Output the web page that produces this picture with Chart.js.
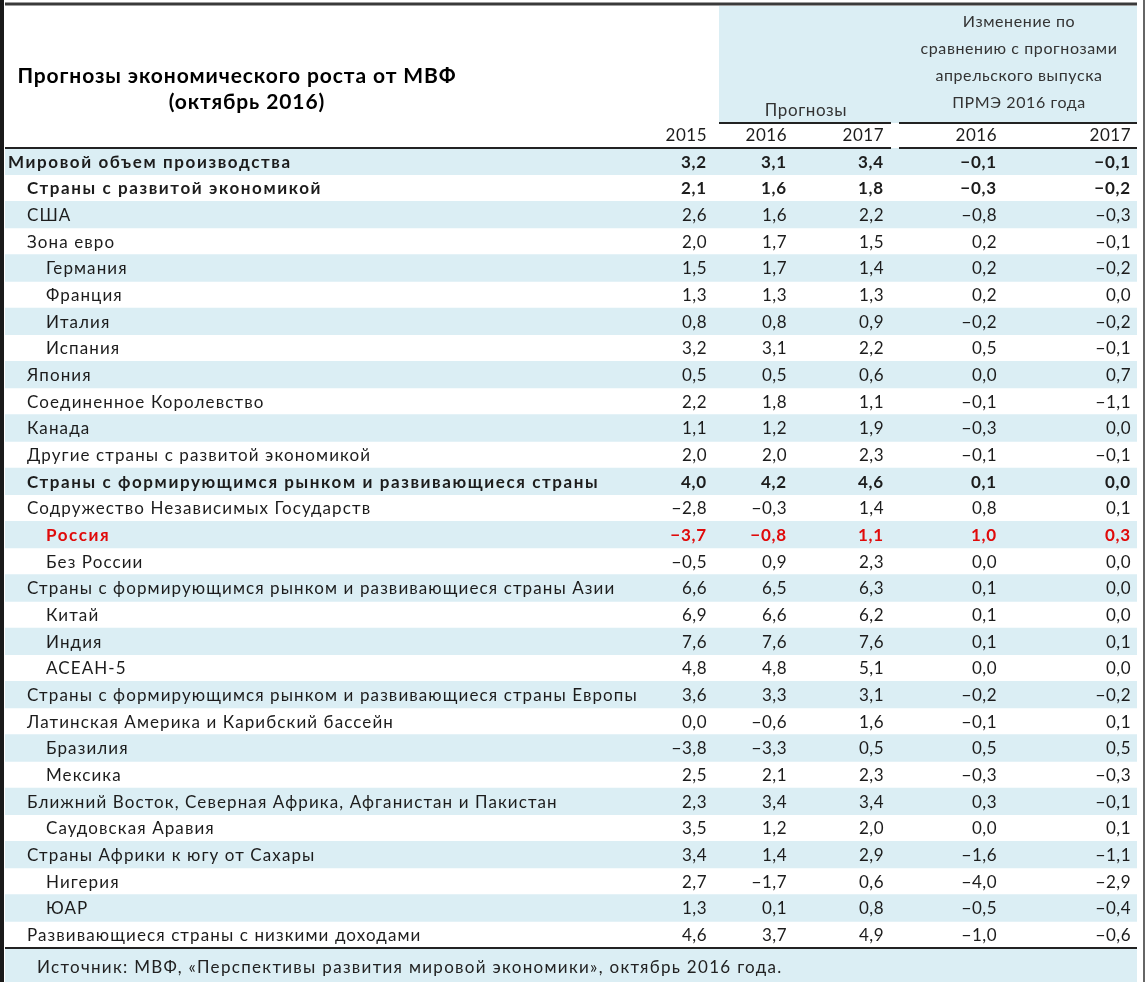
<!DOCTYPE html>
<html>
<head>
<meta charset="utf-8">
<script src="https://cdn.jsdelivr.net/npm/chart.js@4/dist/chart.umd.min.js"></script>
<style>
  html, body { margin: 0; padding: 0; background: #fff; }
  canvas { display: block; }
</style>
</head>
<body>
<canvas id="table" width="1148" height="982"></canvas>
<script>
// rows of the table
const rows = [
  "Мировой объем производства",
  "Страны с развитой экономикой",
  "США",
  "Зона евро",
  "Германия",
  "Франция",
  "Италия",
  "Испания",
  "Япония",
  "Соединенное Королевство",
  "Канада",
  "Другие страны с развитой экономикой",
  "Страны с формирующимся рынком и развивающиеся страны",
  "Содружество Независимых Государств",
  "Россия",
  "Без России",
  "Страны с формирующимся рынком и развивающиеся страны Азии",
  "Китай",
  "Индия",
  "АСЕАН-5",
  "Страны с формирующимся рынком и развивающиеся страны Европы",
  "Латинская Америка и Карибский бассейн",
  "Бразилия",
  "Мексика",
  "Ближний Восток, Северная Африка, Афганистан и Пакистан",
  "Саудовская Аравия",
  "Страны Африки к югу от Сахары",
  "Нигерия",
  "ЮАР",
  "Развивающиеся страны с низкими доходами"
];
// indent level of each row
const levels = [0,1,1,1,2,2,2,2,1,1,1,1,1,1,2,2,1,2,2,2,1,1,2,2,1,2,1,2,2,1];
const boldRows = [0, 1, 12, 14];
const highlightRow = 14;

// growth, %
const g2015 = [3.2,2.1,2.6,2.0,1.5,1.3,0.8,3.2,0.5,2.2,1.1,2.0,4.0,-2.8,-3.7,-0.5,6.6,6.9,7.6,4.8,3.6,0.0,-3.8,2.5,2.3,3.5,3.4,2.7,1.3,4.6];
const g2016 = [3.1,1.6,1.6,1.7,1.7,1.3,0.8,3.1,0.5,1.8,1.2,2.0,4.2,-0.3,-0.8,0.9,6.5,6.6,7.6,4.8,3.3,-0.6,-3.3,2.1,3.4,1.2,1.4,-1.7,0.1,3.7];
const g2017 = [3.4,1.8,2.2,1.5,1.4,1.3,0.9,2.2,0.6,1.1,1.9,2.3,4.6,1.4,1.1,2.3,6.3,6.2,7.6,5.1,3.1,1.6,0.5,2.3,3.4,2.0,2.9,0.6,0.8,4.9];
// change vs April 2016 WEO
const d2016 = [-0.1,-0.3,-0.8,0.2,0.2,0.2,-0.2,0.5,0.0,-0.1,-0.3,-0.1,0.1,0.8,1.0,0.0,0.1,0.1,0.1,0.0,-0.2,-0.1,0.5,-0.3,0.3,0.0,-1.6,-4.0,-0.5,-1.0];
const d2017 = [-0.1,-0.2,-0.3,-0.1,-0.2,0.0,-0.2,-0.1,0.7,-1.1,0.0,-0.1,0.0,0.1,0.3,0.0,0.0,0.0,0.1,0.0,-0.2,0.1,0.5,-0.3,-0.1,0.1,-1.1,-2.9,-0.4,-0.6];

const yearLabels = ["2015", "2016", "2017", "2016", "2017"];
const title = ["Прогнозы экономического роста от МВФ", "(октябрь 2016)"];
const forecastHeader = "Прогнозы";
const changeHeader = ["Изменение по", "сравнению с прогнозами", "апрельского выпуска", "ПРМЭ 2016 года"];
const source = "Источник: МВФ, «Перспективы развития мировой экономики», октябрь 2016 года.";

const columns = [g2015, g2016, g2017, d2016, d2017];
const colRight = [707, 787, 884, 997, 1131]; // right edge of each number column
const BLUE = "#dbeef4";
const INK = "#1c1c1c";
const FONT = "Lato, 'Open Sans', sans-serif";

const fmt = v => (v < 0 ? "\u2212" : "") + Math.abs(v).toFixed(1).replace(".", ",");

const tablePlugin = {
  id: "tableText",
  beforeDraw(chart) {
    const ctx = chart.ctx;
    const area = chart.chartArea;
    ctx.save();
    // header shading
    ctx.fillStyle = BLUE;
    ctx.fillRect(719, 6, area.right - 719, 117);
    // footer shading
    ctx.fillRect(area.left, area.bottom, area.right - area.left, chart.height - area.bottom);
    ctx.restore();
  },
  afterDatasetsDraw(chart) {
    const ctx = chart.ctx;
    const area = chart.chartArea;
    const y = chart.scales.y;
    ctx.save();
    ctx.textBaseline = "middle";

    rows.forEach((name, i) => {
      const cy = y.getPixelForValue(i) + 1;
      const bold = boldRows.includes(i);
      ctx.fillStyle = i === highlightRow ? "#e00a0a" : INK;
      ctx.font = (bold ? "bold " : "") + "17px " + FONT;
      ctx.textAlign = "left";
      ctx.letterSpacing = bold ? "1.6px" : "1.1px";
      ctx.fillText(name, area.left + 3 + levels[i] * 19, cy);
      ctx.textAlign = "right";
      ctx.letterSpacing = bold ? "0.8px" : "0.5px";
      columns.forEach((col, c) => ctx.fillText(fmt(col[i]), colRight[c], cy));
    });

    // title
    ctx.fillStyle = "#000";
    ctx.textAlign = "center";
    ctx.font = "bold 21px " + FONT;
    ctx.letterSpacing = "0.9px";
    ctx.fillText(title[0], 237, 76);
    ctx.fillText(title[1], 247, 102);

    // column headers
    ctx.fillStyle = "#333";
    ctx.font = "16px " + FONT;
    ctx.letterSpacing = "0.6px";
    changeHeader.forEach((t, k) => ctx.fillText(t, 1019, 22 + k * 27));
    ctx.font = "17px " + FONT;
    ctx.fillText(forecastHeader, 806, 111);
    ctx.textAlign = "right";
    ctx.fillStyle = INK;
    ctx.letterSpacing = "0.5px";
    yearLabels.forEach((t, c) => ctx.fillText(t, colRight[c], 136));

    // source note
    ctx.textAlign = "left";
    ctx.fillStyle = "#222";
    ctx.letterSpacing = "1.3px";
    ctx.fillText(source, 37, 968);
    ctx.letterSpacing = "0px";

    // rules
    const hline = (x0, x1, yy, w, col) => {
      ctx.beginPath();
      ctx.lineWidth = w;
      ctx.strokeStyle = col;
      ctx.moveTo(x0, yy);
      ctx.lineTo(x1, yy);
      ctx.stroke();
    };
    hline(area.left, area.right, 4, 3, "#3a3a3a");
    hline(719, 891, 123, 2, "#222");
    hline(899, area.right, 123, 2, "#222");
    hline(area.left, 891, area.top, 2, "#222");
    hline(899, area.right, area.top, 2, "#222");
    hline(area.left, area.right, area.bottom, 2, "#222");
    // frame
    ctx.beginPath();
    ctx.lineWidth = 4;
    ctx.strokeStyle = "#1a1a1a";
    ctx.moveTo(2, 0);
    ctx.lineTo(2, chart.height);
    ctx.stroke();
    ctx.beginPath();
    ctx.lineWidth = 1.5;
    ctx.strokeStyle = "#333";
    ctx.moveTo(1144, 0);
    ctx.lineTo(1144, chart.height);
    ctx.stroke();
    ctx.restore();
  }
};

new Chart(document.getElementById("table"), {
  type: "bar",
  data: {
    labels: rows,
    datasets: [{
      label: "bands",
      data: rows.map(() => [0, 1]),
      backgroundColor: rows.map((_, i) => i % 2 === 0 ? BLUE : "rgba(0,0,0,0)"),
      borderWidth: 0,
      barPercentage: 1,
      categoryPercentage: 1
    }]
  },
  options: {
    indexAxis: "y",
    responsive: false,
    animation: false,
    layout: { padding: { top: 148, bottom: 34, left: 5, right: 11 } },
    plugins: {
      legend: { display: false },
      tooltip: { enabled: false }
    },
    scales: {
      x: { display: false, min: 0, max: 1 },
      y: { display: false }
    }
  },
  plugins: [tablePlugin]
});
</script>
</body>
</html>
